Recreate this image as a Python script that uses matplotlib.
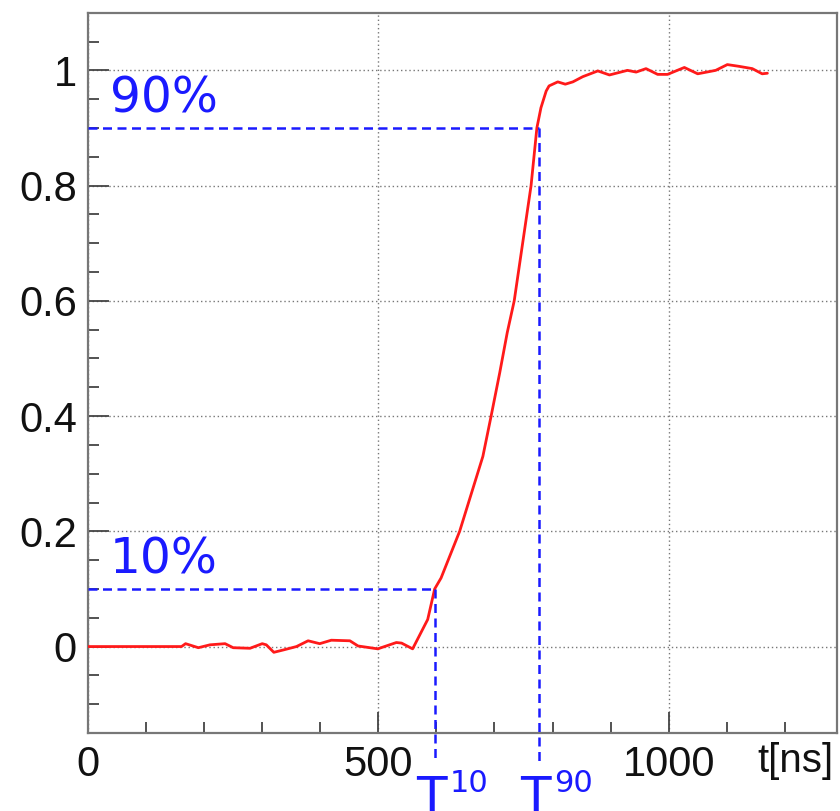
import matplotlib
matplotlib.use('Agg')
from matplotlib import pyplot as plt
from matplotlib.ticker import MultipleLocator, FormatStrFormatter

# pulse samples (time in ns, normalised amplitude)
t_ns = [0, 161, 168, 190, 210, 236, 250, 279, 300, 307, 320, 336, 359, 379, 399,
        419, 451, 465, 499, 531, 540, 559, 585, 597, 608, 640, 680, 694, 709, 722,
        734, 763, 773, 780, 789, 794, 809, 822, 835, 852, 878, 898, 929, 944, 961,
        981, 998, 1027, 1050, 1081, 1101, 1121, 1144, 1161, 1170]
amplitude = [0.0, 0.0, 0.005, -0.002, 0.003, 0.005, -0.002, -0.003, 0.005, 0.003, -0.01,
             -0.006, 0.0, 0.01, 0.005, 0.011, 0.01, 0.001, -0.004, 0.007, 0.006, -0.004,
             0.047, 0.1, 0.119, 0.2, 0.33, 0.399, 0.475, 0.545, 0.6, 0.8, 0.9, 0.935,
             0.964, 0.973, 0.98, 0.976, 0.98, 0.989, 0.999, 0.992, 1.0, 0.997, 1.003,
             0.993, 0.993, 1.005, 0.994, 1.0, 1.01, 1.007, 1.003, 0.994, 0.995]

levels = [0.1, 0.9]
level_labels = ['10%', '90%']
crossings = [597, 777]
crossing_labels = ['10', '90']

blue = '#1a1aff'
frame = '#777777'

fig = plt.figure(figsize=(8.4, 8.11), dpi=100)
ax = fig.add_axes([0.1048, 0.0962, 0.8917, 0.8881])

ax.plot(t_ns, amplitude, color='#ff1a1a', lw=2.0, zorder=3,
        solid_joinstyle='round', solid_capstyle='round')

dash = (0, (3.6, 2.2))
for lev, lab, tc, sup in zip(levels, level_labels, crossings, crossing_labels):
    ax.plot([0, tc], [lev, lev], color=blue, lw=1.8, linestyle=dash, zorder=4)
    ax.plot([tc, tc], [lev, -0.2], color=blue, lw=1.8, linestyle=dash,
            clip_on=False, zorder=4)
    ax.text(38, lev + 0.027, lab, color=blue, fontsize=35, family='DejaVu Sans',
            va='baseline', ha='left')
    ax.text(tc - 6, -0.222, 'T', color=blue, fontsize=36, family='DejaVu Sans',
            va='top', ha='center', clip_on=False)
    ax.text(tc + 25, -0.213, sup, color=blue, fontsize=22, family='DejaVu Sans',
            va='top', ha='left', clip_on=False)

ax.set_xlim(0, 1290)
ax.set_ylim(-0.15, 1.1)

ax.xaxis.set_major_locator(MultipleLocator(500))
ax.xaxis.set_minor_locator(MultipleLocator(100))
ax.yaxis.set_major_locator(MultipleLocator(0.2))
ax.yaxis.set_minor_locator(MultipleLocator(0.05))
ax.yaxis.set_major_formatter(FormatStrFormatter('%g'))

ax.tick_params(which='both', direction='in', color='#444444', width=1.3,
               labelsize=30, labelcolor='#111111')
ax.tick_params(which='major', length=15)
ax.tick_params(which='minor', length=8)
ax.tick_params(axis='x', pad=9)
ax.tick_params(axis='y', pad=8)
for lbl in ax.get_xticklabels() + ax.get_yticklabels():
    lbl.set_family('Liberation Sans')

ax.grid(True, which='major', color='#777777', linestyle=(0, (1, 2)), lw=1.0)
for s in ax.spines.values():
    s.set_color(frame)
    s.set_linewidth(1.6)

ax.text(0.995, -0.012, 't[ns]', transform=ax.transAxes, ha='right', va='top',
        fontsize=29, family='Liberation Sans', color='#111111')

plt.savefig('out.png', dpi=100)
plt.close()
